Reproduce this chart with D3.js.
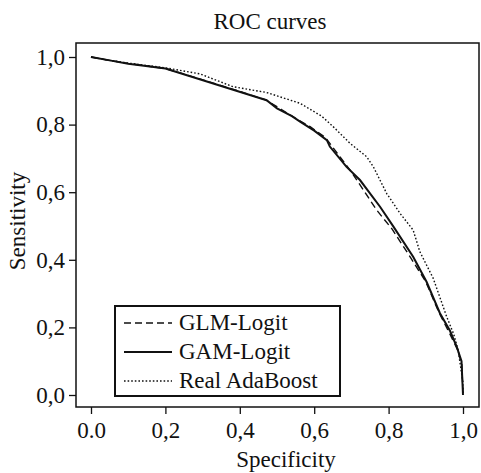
<!DOCTYPE html>
<html>
<head>
<meta charset="utf-8">
<script src="https://cdn.jsdelivr.net/npm/d3@7"></script>
<style>
  body { margin: 0; background: #fff; }
  text { font-family: "Liberation Serif", "DejaVu Serif", serif; fill: #111; }
</style>
</head>
<body>
<div id="graf"></div>
<script>
// datos
const xTicks = [0, 0.2, 0.4, 0.6, 0.8, 1.0]
const xTickLabels = ["0.0", "0,2", "0,4", "0,6", "0,8", "1,0"]
const yTicks = [0, 0.2, 0.4, 0.6, 0.8, 1.0]
const yTickLabels = ["0,0", "0,2", "0,4", "0,6", "0,8", "1,0"]

const series = ["GLM-Logit", "GAM-Logit", "Real AdaBoost"]

const glmSpec = [0, 0.05, 0.1, 0.2, 0.29, 0.38, 0.47, 0.51, 0.56, 0.589, 0.63, 0.669, 0.70, 0.732, 0.768, 0.81, 0.86, 0.90, 0.935, 0.965, 0.985, 0.997, 1.0]
const glmSens = [1.0, 0.99, 0.981, 0.966, 0.936, 0.905, 0.873, 0.846, 0.812, 0.794, 0.762, 0.705, 0.66, 0.607, 0.547, 0.49, 0.405, 0.335, 0.245, 0.18, 0.135, 0.09, 0.0]

const gamSpec = [0, 0.05, 0.1, 0.2, 0.29, 0.382, 0.472, 0.5, 0.54, 0.562, 0.6, 0.634, 0.642, 0.687, 0.723, 0.777, 0.813, 0.866, 0.902, 0.938, 0.965, 0.983, 0.996, 1.0]
const gamSens = [1.0, 0.99, 0.98, 0.966, 0.935, 0.903, 0.872, 0.848, 0.825, 0.809, 0.782, 0.754, 0.735, 0.675, 0.636, 0.557, 0.498, 0.409, 0.335, 0.242, 0.19, 0.143, 0.10, 0.0]

const adaSpec = [0, 0.05, 0.1, 0.2, 0.293, 0.382, 0.472, 0.562, 0.62, 0.651, 0.696, 0.741, 0.759, 0.795, 0.831, 0.866, 0.884, 0.92, 0.956, 0.975, 0.987, 1.0, 1.0]
const adaSens = [1.0, 0.99, 0.982, 0.968, 0.95, 0.912, 0.895, 0.863, 0.825, 0.794, 0.745, 0.705, 0.675, 0.596, 0.537, 0.488, 0.424, 0.345, 0.232, 0.18, 0.133, 0.035, 0.0]

const estilos = [
  { dash: "7,4", width: 1.4 },
  { dash: null, width: 2 },
  { dash: "1.6,2", width: 1.4 },
]

const curvas = [
  d3.zip(glmSpec, glmSens),
  d3.zip(gamSpec, gamSens),
  d3.zip(adaSpec, adaSens),
]

const anchoTotal = 481
const altoTotal = 473
const caja = { left: 76, top: 43, right: 479, bottom: 407 }
const fs = 23

const svg = d3.select("#graf")
  .append("svg")
  .attr("width", anchoTotal)
  .attr("height", altoTotal)

const x = d3.scaleLinear().domain([0, 1]).range([91, 463])
const y = d3.scaleLinear().domain([0, 1]).range([395, 57])

// caja del grafico
svg.append("rect")
  .attr("x", caja.left)
  .attr("y", caja.top)
  .attr("width", caja.right - caja.left)
  .attr("height", caja.bottom - caja.top)
  .attr("fill", "none")
  .attr("stroke", "#111")
  .attr("stroke-width", 1.5)

const xAxis = d3.axisBottom(x)
  .tickValues(xTicks)
  .tickFormat((d, i) => xTickLabels[i])
  .tickSizeInner(7)
  .tickSizeOuter(0)
  .tickPadding(8)

const yAxis = d3.axisLeft(y)
  .tickValues(yTicks)
  .tickFormat((d, i) => yTickLabels[i])
  .tickSizeInner(7)
  .tickSizeOuter(0)
  .tickPadding(4)

const gx = svg.append("g")
  .attr("transform", `translate(0, ${caja.bottom})`)
  .call(xAxis)
const gy = svg.append("g")
  .attr("transform", `translate(${caja.left}, 0)`)
  .call(yAxis)

for (const ax of [gx, gy]) {
  ax.select(".domain").remove()
  ax.selectAll(".tick line").attr("stroke", "#111").attr("stroke-width", 1.3)
  ax.selectAll(".tick text")
    .attr("font-family", "Liberation Serif, serif")
    .attr("font-size", fs)
    .attr("fill", "#111")
}

// titulo y etiquetas
svg.append("text")
  .attr("x", 270)
  .attr("y", 29)
  .attr("text-anchor", "middle")
  .attr("font-size", fs)
  .text("ROC curves")

svg.append("text")
  .attr("x", 286)
  .attr("y", 467)
  .attr("text-anchor", "middle")
  .attr("font-size", fs)
  .text("Specificity")

svg.append("text")
  .attr("transform", `translate(25, 221) rotate(-90)`)
  .attr("text-anchor", "middle")
  .attr("font-size", fs)
  .text("Sensitivity")

// curvas
const linea = d3.line()
  .x((d) => x(d[0]))
  .y((d) => y(d[1]))

svg.selectAll("path.curva")
  .data(curvas)
  .join("path")
  .attr("class", "curva")
  .attr("d", linea)
  .attr("fill", "none")
  .attr("stroke", "#111")
  .attr("stroke-width", (d, i) => estilos[i].width)
  .attr("stroke-dasharray", (d, i) => estilos[i].dash)

// leyenda
const leg = svg.append("g").attr("transform", "translate(115, 306)")
leg.append("rect")
  .attr("width", 225)
  .attr("height", 90)
  .attr("fill", "#fff")
  .attr("stroke", "#111")
  .attr("stroke-width", 2)

const item = leg.selectAll("g.item")
  .data(series)
  .join("g")
  .attr("class", "item")
  .attr("transform", (d, i) => `translate(0, ${17 + i * 29})`)

item.append("line")
  .attr("x1", 9)
  .attr("x2", 57)
  .attr("stroke", "#111")
  .attr("stroke-width", (d, i) => estilos[i].width)
  .attr("stroke-dasharray", (d, i) => estilos[i].dash)

item.append("text")
  .attr("x", 64)
  .attr("y", 7)
  .attr("font-size", fs)
  .text((d) => d)
</script>
</body>
</html>
